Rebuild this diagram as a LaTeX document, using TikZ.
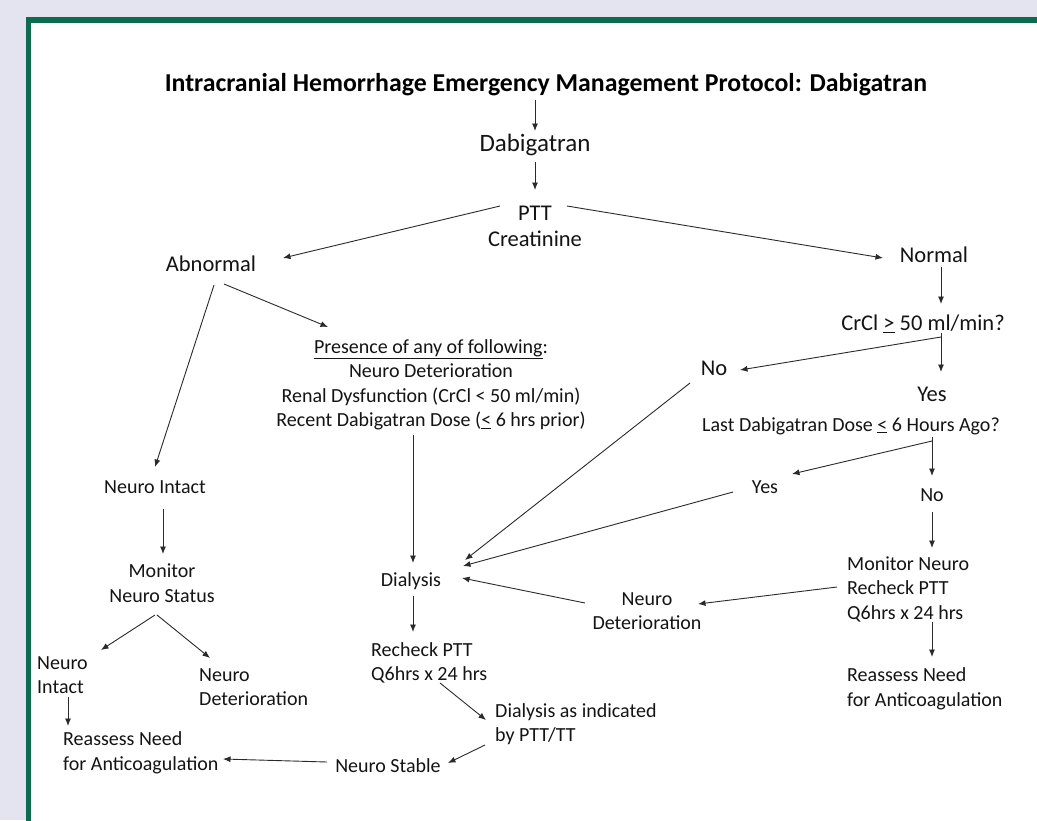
\documentclass[tikz,border=0pt]{standalone}
\usepackage{fontspec}
\setmainfont{Carlito}
\usetikzlibrary{arrows.meta,calc,positioning}
\definecolor{pagebg}{HTML}{E3E4EF}
\definecolor{framegreen}{HTML}{0E6B4F}
\definecolor{inkc}{HTML}{141414}
\definecolor{linec}{HTML}{2A2A2A}
\tikzset{
  txt/.style={inner sep=0pt, text=inkc, font=\fontsize{20}{24.5}\selectfont},
  bigtxt/.style={inner sep=0pt, text=inkc, font=\fontsize{22.5}{26}\selectfont},
  titletxt/.style={inner sep=0pt, text=black, font=\fontsize{25.8}{30}\selectfont\bfseries},
  arr/.style={draw=linec, line width=0.9pt, -{Latex[length=7.5pt,width=6pt]}},
  seg/.style={draw=linec, line width=0.9pt},
}

\begin{document}
\begin{tikzpicture}[x=1pt,y=-1pt]
% page and frame
\fill[pagebg] (0,0) rectangle (1037,820);
\useasboundingbox (0,0) rectangle (1037,820);
\filldraw[fill=white, draw=framegreen, line width=5.3pt] (28.5,20) rectangle (1050,840);

% top of the tree
\node[titletxt] (title) at (546,85) {Intracranial Hemorrhage Emergency Management Protocol: Dabigatran};
\node[txt, font=\fontsize{25}{30}\selectfont] (dabi) at (535,145) {Dabigatran};
\node[bigtxt, align=center] (ptt) at (535,226) {PTT\\Creatinine};
\node[bigtxt] (abn) at (211,264) {Abnormal};
\node[bigtxt] (norm) at (934,255) {Normal};

% right branch
\node[bigtxt] (crcl) at (923,324) {CrCl \underline{>} 50 ml/min?};
\node[bigtxt] (no1) at (714,368) {No};
\node[bigtxt] (yes1) at (932,394) {Yes};
\node[txt] (last) at (851,426) {Last Dabigatran Dose \underline{<} 6 Hours Ago?};
\node[txt] (yes2) at (765,487) {Yes};
\node[txt] (no2) at (932,495) {No};
\node[txt, align=left, anchor=west] (monR) at (847,589) {Monitor Neuro\\Recheck PTT\\Q6hrs x 24 hrs};
\node[txt, align=left, anchor=west] (reassR) at (847,689) {Reassess Need\\for Anticoagulation};
\node[txt, align=center] (ndetR) at (647,611) {Neuro\\Deterioration};

% middle branch
\node[txt, align=center] (pres) at (431,385) {\underline{Presence of any of following}:\\Neuro Deterioration\\Renal Dysfunction (CrCl < 50 ml/min)\\Recent Dabigatran Dose (\underline{<} 6 hrs prior)};
\node[txt] (dial) at (411,581) {Dialysis};
\node[txt, align=left, anchor=west] (recheck) at (371,663) {Recheck PTT\\Q6hrs x 24 hrs};
\node[txt, align=left, anchor=west] (dialind) at (495,724) {Dialysis as indicated\\by PTT/TT};
\node[txt] (nstab) at (388,766) {Neuro Stable};

% left branch
\node[txt] (nint) at (155,487) {Neuro Intact};
\node[txt, align=center] (monL) at (162,583) {Monitor\\Neuro Status};
\node[txt, align=left, anchor=west] (nintL) at (37,675) {Neuro\\Intact};
\node[txt, align=left, anchor=west] (ndetL) at (199,687) {Neuro\\Deterioration};
\node[txt, align=left, anchor=west] (reassL) at (63,753) {Reassess Need\\for Anticoagulation};

% branch points
\coordinate (c1) at ($(crcl)+(18,13)$);
\coordinate (c2) at ($(last)+(81,15)$);

% connectors
\draw[arr] ($(title)+(-11,15)$) -- ($(dabi)+(0,-14)$);
\draw[arr] ($(dabi)+(0,17)$) -- ($(ptt)+(0,-36)$);
\draw[arr] ($(ptt)+(-35,-20)$) -- ($(abn)+(72,-6)$);
\draw[arr] ($(ptt)+(32,-20)$) -- ($(norm)+(-51,3)$);
\draw[arr] ($(abn)+(13,20)$) -- ($(pres)+(-103,-58)$);
\draw[arr] ($(abn)+(3,21)$) -- ($(nint)+(0,-20)$);
\draw[arr] ($(norm)+(7,12)$) -- ($(crcl)+(18,-20)$);
\draw[seg] ($(crcl)+(18,9)$) -- (c1);
\draw[arr] (c1) -- ($(yes1)+(9,-22)$);
\draw[arr] (c1) -- ($(no1)+(26,2)$);
\draw[seg] ($(last)+(81,11)$) -- (c2);
\draw[arr] (c2) -- ($(no2)+(0,-19)$);
\draw[arr] (c2) -- ($(yes2)+(27,-13)$);
\draw[arr] ($(no1)+(-24,15)$) -- ($(dial)+(54,-21)$);
\draw[arr] ($(yes2)+(-32,5)$) -- ($(dial)+(52,-15)$);
\draw[arr] ($(no2)+(0,17)$) -- ($(monR.west)+(85,-41)$);
\draw[arr] ($(monR.west)+(-10,-2)$) -- ($(ndetR)+(51,-7)$);
\draw[arr] ($(ndetR)+(-62,-8)$) -- ($(dial)+(51,-3)$);
\draw[arr] ($(monR.west)+(85,33)$) -- ($(reassR.west)+(85,-32)$);
\draw[arr] ($(pres)+(-18,50)$) -- ($(dial)+(2,-18)$);
\draw[arr] ($(dial)+(2,15)$) -- ($(recheck.west)+(42,-31)$);
\draw[arr] ($(recheck.west)+(69,20)$) -- ($(dialind.west)+(-9,-4)$);
\draw[arr] ($(dialind.west)+(-10,21)$) -- ($(nstab)+(60,-3)$);
\draw[arr] ($(nstab)+(-61,-4)$) -- ($(reassL.west)+(160,6)$);
\draw[arr] ($(nint)+(8,22)$) -- ($(monL)+(1,-29)$);
\draw[arr] ($(monL)+(-7,32)$) -- ($(nintL.west)+(64,-25)$);
\draw[arr] ($(monL)+(-5,32)$) -- ($(ndetL.west)+(11,-29)$);
\draw[arr] ($(nintL.west)+(31,22)$) -- ($(reassL.west)+(5,-27)$);
\end{tikzpicture}
\end{document}
